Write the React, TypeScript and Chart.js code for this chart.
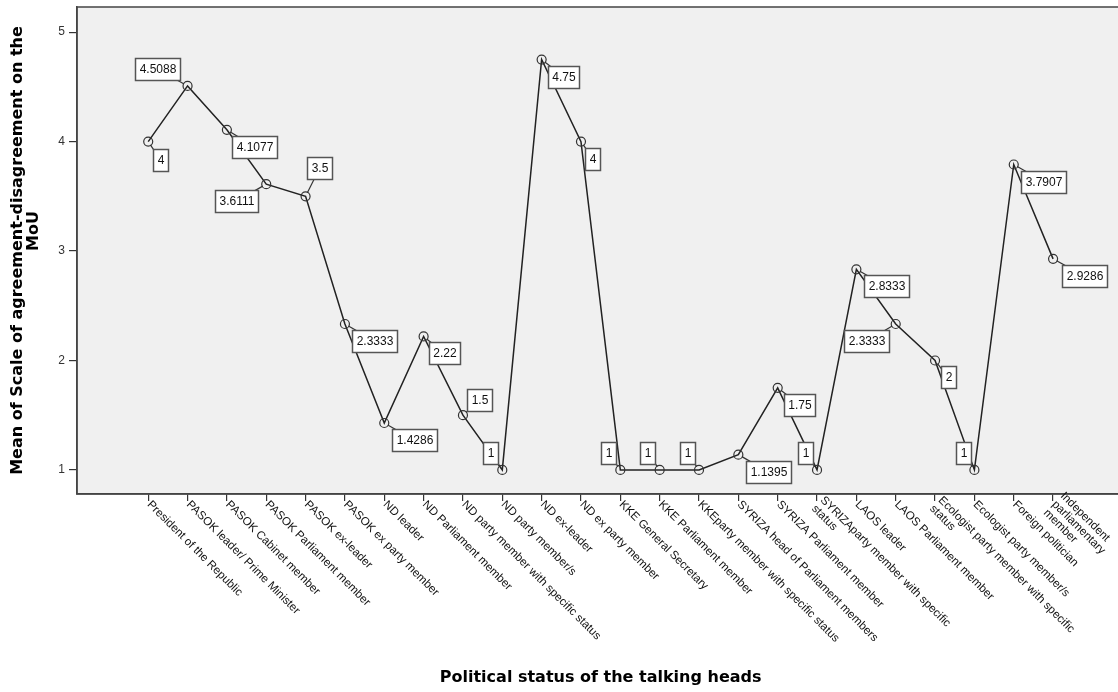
import React, { useEffect, useRef } from 'react';
import { Chart, registerables } from 'chart.js';

Chart.register(...registerables);

const CATEGORIES: string[] = [
  'President of the Republic',
  'PASOK leader/ Prime Minister',
  'PASOK Cabinet member',
  'PASOK Parliament member',
  'PASOK ex-leader',
  'PASOK ex party member',
  'ND leader',
  'ND Parliament member',
  'ND party member with specific status',
  'ND party member/s',
  'ND ex-leader',
  'ND ex party member',
  'KKE General Secretary',
  'KKE Parliament member',
  'KKEparty member with specific status',
  'SYRIZA head of Parliament members',
  'SYRIZA Parliament member',
  'SYRIZAparty member with specific\nstatus',
  'LAOS leader',
  'LAOS Parliament member',
  'Ecologist party member with specific\nstatus',
  'Ecologist party member/s',
  'Foreign politician',
  'Independent\nparliamentary\nmember',
];

const MEANS: number[] = [
  4, 4.5088, 4.1077, 3.6111, 3.5, 2.3333, 1.4286, 2.22, 1.5, 1, 4.75, 4,
  1, 1, 1, 1.1395, 1.75, 1, 2.8333, 2.3333, 2, 1, 3.7907, 2.9286,
];

const Y_TICKS: number[] = [1, 2, 3, 4, 5];

const Y_TITLE: string[] = ['Mean of Scale of agreement-disagreement on the', '       MoU'];
const X_TITLE = 'Political status of the talking heads';

// placement of each value box relative to its point (layout only)
const LABEL_OFFSETS: [number, number][] = [
  [12, 18], [-30, -17], [28, 17], [-30, 17], [14, -28], [30, 17],
  [30, 17], [21, 17], [17, -15], [-12, -17], [22, 17], [12, 17],
  [-12, -17], [-12, -17], [-12, -17], [30, 17], [22, 17], [-12, -17],
  [30, 17], [-29, 17], [13, 17], [-11, -17], [30, 17], [31, 17],
];

const FONT = '"Liberation Sans", Arial, sans-serif';
const TITLE_FONT = '"DejaVu Sans", Verdana, sans-serif';

const framePlugin = {
  id: 'frame',
  beforeDraw(chart: any) {
    const { ctx, chartArea: a } = chart;
    ctx.save();
    ctx.fillStyle = '#f0f0f0';
    ctx.fillRect(a.left, a.top, a.right - a.left, a.bottom - a.top);
    ctx.strokeStyle = '#444';
    ctx.lineWidth = 1.5;
    ctx.strokeRect(a.left, a.top, a.right - a.left, a.bottom - a.top);
    ctx.restore();
  },
};

const valueLabelPlugin = {
  id: 'valueLabels',
  afterDatasetsDraw(chart: any) {
    const { ctx } = chart;
    const meta = chart.getDatasetMeta(0);
    ctx.save();
    ctx.font = `12px ${FONT}`;
    meta.data.forEach((pt: any, i: number) => {
      const [dx, dy] = LABEL_OFFSETS[i];
      const text = String(MEANS[i]);
      const w = Math.round(ctx.measureText(text).width + 8);
      const h = 22;
      const cx = pt.x + dx;
      const cy = pt.y + dy;
      const ang = Math.atan2(cy - pt.y, cx - pt.x);
      ctx.strokeStyle = '#333';
      ctx.lineWidth = 1.2;
      ctx.beginPath();
      ctx.moveTo(pt.x + 4 * Math.cos(ang), pt.y + 4 * Math.sin(ang));
      ctx.lineTo(cx, cy);
      ctx.stroke();
      const bx = Math.round(cx - w / 2) + 0.5;
      const by = Math.round(cy - h / 2) + 0.5;
      ctx.fillStyle = '#ffffff';
      ctx.fillRect(bx, by, w, h);
      ctx.strokeStyle = '#555';
      ctx.lineWidth = 1.5;
      ctx.strokeRect(bx, by, w, h);
      ctx.fillStyle = '#111';
      ctx.textAlign = 'center';
      ctx.textBaseline = 'middle';
      ctx.fillText(text, bx + w / 2, by + h / 2 + 0.5);
    });
    ctx.restore();
  },
};

const xLabelPlugin = {
  id: 'xLabels',
  afterDraw(chart: any) {
    const { ctx } = chart;
    const xs = chart.scales.x;
    const y0 = chart.chartArea.bottom + 8;
    ctx.save();
    ctx.font = `11.6px ${FONT}`;
    ctx.fillStyle = '#111';
    ctx.textAlign = 'left';
    ctx.textBaseline = 'middle';
    CATEGORIES.forEach((lab, i) => {
      const x = xs.getPixelForValue(i);
      const lines = lab.split('\n');
      ctx.save();
      ctx.translate(x, y0);
      ctx.rotate(Math.PI / 4);
      lines.forEach((ln, k) => {
        ctx.fillText(ln, 1, (k - (lines.length - 1) / 2) * 12);
      });
      ctx.restore();
    });
    ctx.restore();
  },
};

export default function App() {
  const ref = useRef<HTMLCanvasElement | null>(null);

  useEffect(() => {
    if (!ref.current) return;
    const chart = new Chart(ref.current, {
      type: 'line',
      data: {
        datasets: [
          {
            data: MEANS.map((v, i) => ({ x: i, y: v })),
            borderColor: '#222',
            borderWidth: 1.5,
            tension: 0,
            pointRadius: 4.5,
            pointBorderWidth: 1.2,
            pointBorderColor: '#333',
            pointBackgroundColor: 'rgba(0,0,0,0)',
            clip: false as any,
          },
        ],
      },
      options: {
        animation: false,
        responsive: false,
        devicePixelRatio: 1,
        layout: { padding: { top: 7, right: 4, left: 0, bottom: 0 } },
        plugins: {
          legend: { display: false },
          tooltip: { enabled: false },
        },
        scales: {
          x: {
            type: 'linear',
            min: -1.81,
            max: CATEGORIES.length - 1 + 1.81,
            afterBuildTicks: (scale: any) => {
              scale.ticks = CATEGORIES.map((_, i) => ({ value: i }));
            },
            afterFit: (scale: any) => {
              scale.height = 198;
              scale.paddingLeft = 0;
              scale.paddingRight = 0;
            },
            ticks: { display: false },
            grid: {
              drawOnChartArea: false,
              drawTicks: true,
              tickLength: 7,
              color: '#333',
              lineWidth: 1.2,
            },
            border: { display: true, color: '#444', width: 1.5 },
            title: {
              display: true,
              text: X_TITLE,
              color: '#000',
              font: { family: TITLE_FONT, size: 16, weight: 'bold', lineHeight: 1.2 },
              padding: { top: 0, bottom: 5 },
            },
          },
          y: {
            type: 'linear',
            min: 0.78,
            max: 5.23,
            afterBuildTicks: (scale: any) => {
              scale.ticks = Y_TICKS.map((v) => ({ value: v }));
            },
            afterFit: (scale: any) => {
              scale.width = 77;
              scale.paddingTop = 0;
              scale.paddingBottom = 0;
            },
            ticks: {
              color: '#333',
              padding: 4,
              font: { family: FONT, size: 12 },
              callback: (v: any) => String(v),
            },
            grid: {
              drawOnChartArea: false,
              drawTicks: true,
              tickLength: 8,
              color: '#333',
              lineWidth: 1.2,
            },
            border: { display: true, color: '#444', width: 1.5 },
            title: {
              display: true,
              text: Y_TITLE,
              color: '#000',
              font: { family: TITLE_FONT, size: 16, weight: 'bold', lineHeight: 1 },
              padding: { top: 10, bottom: 0 },
            },
          },
        },
      },
      plugins: [framePlugin, valueLabelPlugin, xLabelPlugin],
    } as any);
    return () => chart.destroy();
  }, []);

  return (
    <div
      style={{
        position: 'fixed',
        left: 0,
        top: 0,
        width: 1118,
        height: 692,
        overflow: 'hidden',
        background: '#fff',
      }}
    >
      <canvas ref={ref} width={1130} height={692} style={{ display: 'block' }} />
    </div>
  );
}
